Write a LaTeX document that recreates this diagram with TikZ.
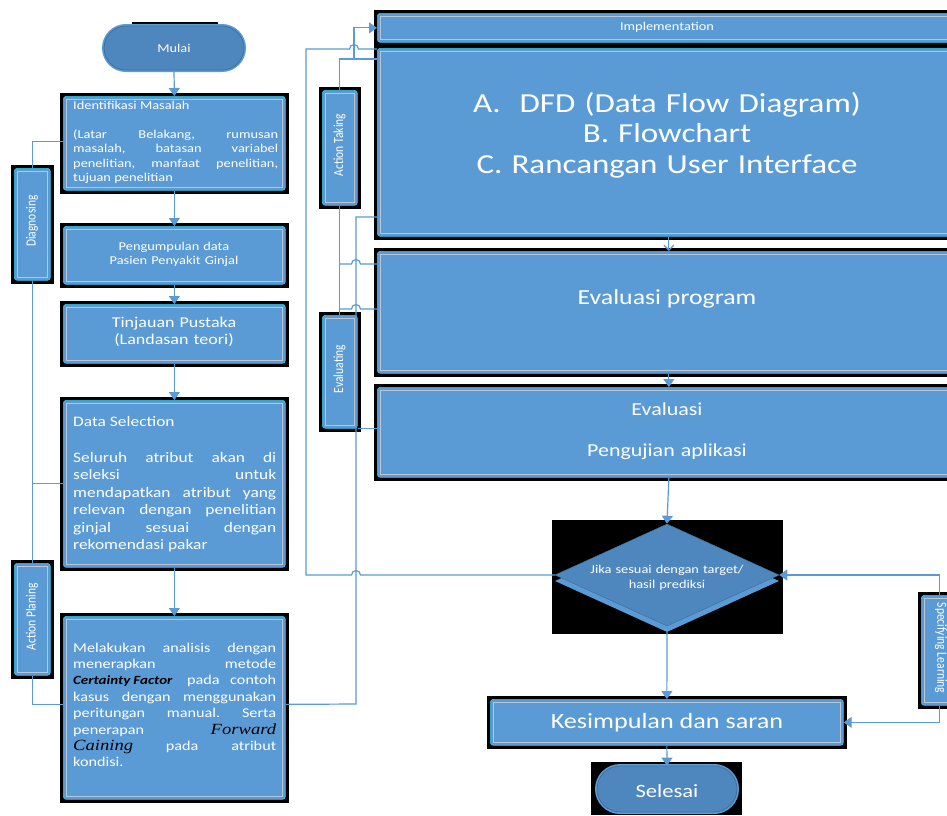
\documentclass[tikz,border=0pt]{standalone}
\usepackage{fontspec}
\setmainfont{Carlito}[FakeStretch=1.2]
\newfontfamily\vfont{Carlito}[FakeStretch=0.83]
\newfontfamily\timesfont{Liberation Serif}[FakeStretch=1.2]
\usetikzlibrary{arrows.meta,shapes.misc,shapes.geometric}
\frenchspacing

\definecolor{boxblue}{HTML}{5B9BD5}
\definecolor{termblue}{HTML}{4E86BE}
\definecolor{edgecyan}{HTML}{33C3E3}
\definecolor{innergrey}{HTML}{B8C6D6}
\definecolor{darkedge}{HTML}{41719C}

\tikzset{
  procbox/.style={fill=boxblue, draw=edgecyan, line width=0.7pt, rounded corners=3pt, inner sep=0pt},
  innerln/.style={draw=innergrey, line width=0.8pt},
  conn/.style={draw=boxblue, line width=1.2pt},
  arr/.style={-{Triangle[width=11pt,length=8pt]}},
  barb/.style={-{Straight Barb[width=10pt,length=5pt]}},
  txt/.style={text=white, inner sep=0pt},
  vlab/.style={text=white, inner sep=0pt, font=\vfont\fontsize{13.9}{16}\selectfont},
  termshape/.style={rounded rectangle, fill=termblue, draw=darkedge, line width=0.8pt, inner sep=0pt,
                    preaction={draw=boxblue, line width=4pt}},
}

% process box with black backing and light inner frame: name, x1, y1, x2, y2 (y downward)
\newcommand\flowbox[5]{%
  \fill[black] ({#2-3.5},{-(#3)+3.5}) rectangle ({#4+3.5},{-(#5)-3.5});
  \node[procbox, anchor=north west, minimum width={#4-#2}, minimum height={#5-#3}] (#1) at (#2,-#3) {};
  \draw[innerln] ([shift={(3.5,-3.5)}]#1.north west) rectangle ([shift={(-3.5,3.5)}]#1.south east);
}
% one fully justified line (word gaps stretch to the full width)
\newcommand\jline[1]{\makebox[\linewidth][s]{\spaceskip=0.23em plus 30em\relax\xspaceskip=\spaceskip #1}}
\newcommand\cfac{\color{black}\bfseries\itshape\fontsize{12.5}{16.4}\selectfont}
\newcommand\fwd{\color{black}\timesfont\itshape\fontsize{15.5}{16.4}\selectfont}

\begin{document}
\begin{tikzpicture}[x=1pt,y=1pt]
\fill[white] (0,0) rectangle (947,-815);
\useasboundingbox (0,0) rectangle (947,-815);

% ---- start terminator
\fill[black] (132,-22) rectangle (218,-60);
\node[termshape, minimum width=140, minimum height=44] (mulai) at (174,-48) {};

% ---- left column
\flowbox{ident}{63}{96}{285}{190}
\flowbox{peng}{63}{226}{285}{284}
\flowbox{tinj}{63}{304}{285}{363}
\flowbox{dsel}{63}{400}{285}{567}
\flowbox{melak}{63}{616}{285}{799}

% ---- phase labels
\flowbox{diag}{14}{168}{50}{280}
\flowbox{aplan}{14}{563}{50}{675}
\flowbox{atake}{322}{90}{357}{205}
\flowbox{evalg}{322}{315}{357}{428}
\flowbox{spec}{921}{595}{958}{705}

% ---- right column
\flowbox{impl}{377}{13}{960}{42}
\flowbox{dfd}{377}{48}{960}{236}
\flowbox{evprog}{377}{251}{960}{373}
\flowbox{evl}{377}{387}{960}{477}

% decision
\fill[black] (552,-520) rectangle (783,-634);
\node[diamond, aspect=2.196, minimum width=224, minimum height=102, fill=boxblue, inner sep=0pt] (diash) at (667,-581) {};
\node[diamond, aspect=2.196, minimum width=224, minimum height=102, fill=termblue, draw=darkedge, line width=0.5pt, inner sep=0pt] (dia) at (667,-575) {};

\flowbox{kes}{490}{699}{843}{745}
\fill[black] (591,-762) rectangle (742,-815);
\node[termshape, minimum width=140, minimum height=46] (sel) at (667,-789) {};

% ---- main flow
\draw[conn,arr] (mulai.south) -- (ident.north);
\draw[conn,arr] (ident.south) -- (peng.north);
\draw[conn,arr] (peng.south) -- (tinj.north);
\draw[conn,arr] (tinj.south) -- (dsel.north);
\draw[conn,arr] (dsel.south) -- (melak.north);
\draw[conn,barb] (dfd.south) -- (evprog.north);
\draw[conn,arr] (evprog.south) -- (evl.north);
\draw[conn,arr] (evl.south) -- (dia.north);
\draw[conn,arr] (diash.south) -- (kes.north);
\draw[conn,arr] (kes.south) -- (sel.north);

% ---- left phase links
\draw[conn] (diag.north) |- ([yshift=2]ident.west);
\draw[conn] (diag.south) -- (aplan.north);
\draw[conn] (dsel.west) -- (dsel.west -| diag.south);
\draw[conn] (aplan.south) |- ([yshift=3.5]melak.west);

% ---- right phase links
\coordinate (jimp) at (354,-59);
\draw[conn] (atake.north) |- (jimp -| dfd.west);
\draw[conn,arr] (jimp) |- (impl.west);
\draw[conn] (atake.south) -- (evalg.north);
\coordinate (mdfd) at (356,-217);
\draw[conn] ([yshift=3.5]melak.east) -- (356,-704) -- (mdfd) -- (mdfd -| dfd.west);
\draw[conn] (atake.south |- 0,-264) -- (351.5,-264) arc[start angle=180,end angle=0,radius=4.5] -- (evprog.west |- 0,-264);
\draw[conn] (atake.south |- 0,-309) -- (351.5,-309) arc[start angle=180,end angle=0,radius=4.5] -- (evprog.west |- 0,-309);
\draw[conn] (evalg.south east) -- (evalg.south east -| evl.west);
% loop back from the decision
\draw[conn] (dia.west) -- (360.5,-575) arc[start angle=0,end angle=180,radius=4.5] -- (306,-575) -- (306,-49)
  -- (349.5,-49) arc[start angle=180,end angle=0,radius=4.5] -- ([yshift=-1]dfd.north west);
\draw[conn,arr] (spec.north) |- (dia.east);
\draw[conn,arr] (spec.south) |- (kes.east);

% ---- texts
\node[txt, anchor=base, font=\fontsize{12}{14}\selectfont] (tmulai) at (174,-52) {Mulai};
\node[txt, anchor=base west, text width=205, align=flush left, font=\fontsize{12}{14.5}\selectfont] (tident) at (73,-109)
  {Identifikasi Masalah\\[14.5pt]
   \jline{(Latar Belakang, rumusan}\\
   \jline{masalah, batasan variabel}\\
   \jline{penelitian, manfaat penelitian,}\\
   tujuan penelitian};
\node[txt, anchor=base, text width=210, align=center, font=\fontsize{12}{14}\selectfont] (tpeng) at (174,-250)
  {Pengumpulan data\\Pasien Penyakit Ginjal};
\node[txt, anchor=base, text width=210, align=center, font=\fontsize{15}{17.5}\selectfont] (ttinj) at (174,-327)
  {Tinjauan Pustaka\\(Landasan teori)};
\node[txt, anchor=base west, text width=203, align=flush left, font=\fontsize{14.5}{17.5}\selectfont] (tdsel) at (73,-426)
  {Data Selection\\[18.5pt]
   \jline{Seluruh atribut akan di}\\
   \jline{seleksi untuk}\\
   \jline{mendapatkan atribut yang}\\
   \jline{relevan dengan penelitian}\\
   \jline{ginjal sesuai dengan}\\
   rekomendasi pakar};
\node[txt, anchor=base west, text width=203, align=flush left, font=\fontsize{13.5}{16.4}\selectfont] (tmelak) at (73,-652)
  {\jline{Melakukan analisis dengan}\\
   \jline{menerapkan metode}\\
   \jline{{\cfac Certainty\hspace{0.25em}Factor}\hspace{0.3em} pada contoh}\\
   \jline{kasus dengan menggunakan}\\
   \jline{peritungan manual. Serta}\\
   \jline{penerapan {\fwd Forward}}\\
   \jline{{\fwd Caining} pada atribut}\\
   kondisi.};

\node[txt, anchor=base, font=\fontsize{12}{14}\selectfont] (timpl) at (667,-30) {Implementation};
\node[txt, anchor=base, text width=520, align=center, font=\fontsize{27.5}{30.5}\selectfont] (tdfd) at (667,-112)
  {A.\hspace{19pt}DFD (Data Flow Diagram)\\B. Flowchart\\C. Rancangan User Interface};
\node[txt, anchor=base, font=\fontsize{21.5}{24}\selectfont] (tevprog) at (667,-304) {Evaluasi program};
\node[txt, anchor=base, text width=300, align=center, font=\fontsize{18.3}{41}\selectfont] (tevl) at (667,-415)
  {Evaluasi\\Pengujian aplikasi};
\node[txt, anchor=base, text width=200, align=center, font=\fontsize{12}{15}\selectfont] (tdia) at (667,-573)
  {Jika sesuai dengan target/\\hasil prediksi};
\node[txt, anchor=base, font=\fontsize{21.8}{24}\selectfont] (tkes) at (667,-728) {Kesimpulan dan saran};
\node[txt, anchor=base, font=\fontsize{18.8}{22}\selectfont] (tsel) at (667,-797) {Selesai};

\node[vlab, rotate=90] (tdiag) at (32,-221) {Diagnosing};
\node[vlab, rotate=90] (taplan) at (32,-617) {Action Planing};
\node[vlab, rotate=90] (tatake) at (339.5,-145) {Action Taking};
\node[vlab, rotate=90] (tevalg) at (339.5,-369) {Evaluating};
\node[vlab, rotate=-90] (tspec) at (941,-648) {Specifying Learning};
\end{tikzpicture}
\end{document}
